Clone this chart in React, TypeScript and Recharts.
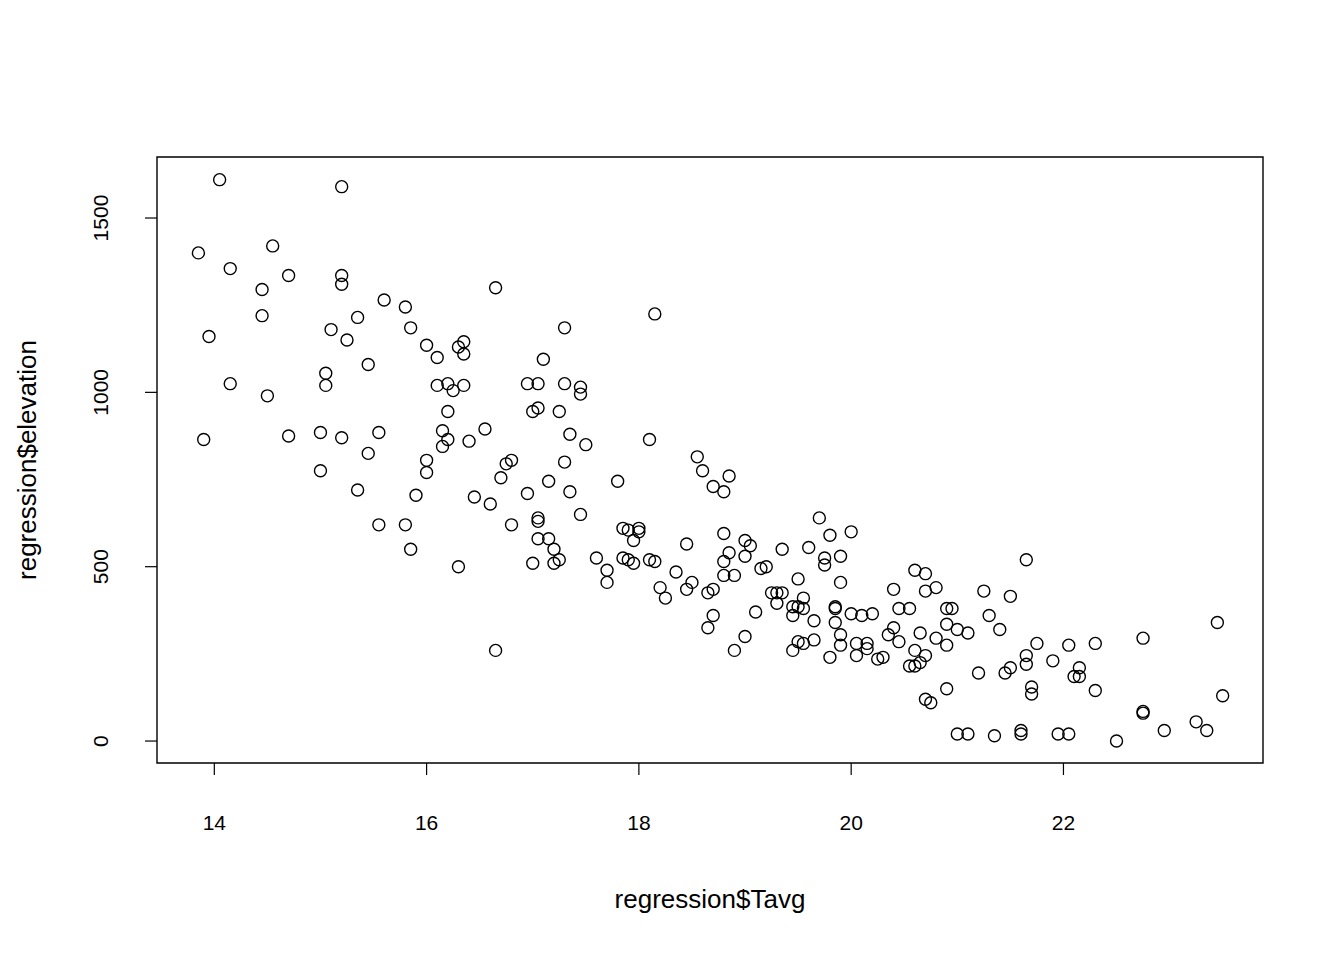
import React from "react";
import { ScatterChart, Scatter, XAxis, YAxis, ReferenceArea } from "recharts";

// regression$Tavg values
const tavg = [
  13.85, 13.9, 13.95, 14.05, 14.15, 14.15, 14.45, 14.45, 14.5, 14.55, 14.7, 14.7, 15.0, 15.0, 15.05, 15.05, 15.1, 15.2, 15.2, 15.2,
  15.2, 15.25, 15.35, 15.35, 15.45, 15.45, 15.55, 15.55, 15.6, 15.8, 15.8, 15.85, 15.85, 15.9, 16.0, 16.0, 16.0, 16.1, 16.1, 16.15,
  16.15, 16.2, 16.2, 16.2, 16.25, 16.3, 16.3, 16.35, 16.35, 16.35, 16.4, 16.45, 16.55, 16.6, 16.65, 16.65, 16.7, 16.75, 16.8, 16.8,
  16.95, 16.95, 17.0, 17.0, 17.05, 17.05, 17.05, 17.05, 17.05, 17.1, 17.15, 17.15, 17.2, 17.2, 17.25, 17.25, 17.3, 17.3, 17.3, 17.35,
  17.35, 17.45, 17.45, 17.45, 17.5, 17.6, 17.7, 17.7, 17.8, 17.85, 17.85, 17.9, 17.9, 17.95, 17.95, 18.0, 18.0, 18.1, 18.1, 18.15,
  18.15, 18.2, 18.25, 18.35, 18.45, 18.45, 18.5, 18.55, 18.6, 18.65, 18.65, 18.7, 18.7, 18.7, 18.8, 18.8, 18.8, 18.8, 18.85, 18.85,
  18.9, 18.9, 19.0, 19.0, 19.0, 19.05, 19.1, 19.15, 19.2, 19.25, 19.3, 19.3, 19.35, 19.35, 19.45, 19.45, 19.45, 19.5, 19.5, 19.5,
  19.55, 19.55, 19.55, 19.6, 19.65, 19.65, 19.7, 19.75, 19.75, 19.8, 19.8, 19.85, 19.85, 19.85, 19.9, 19.9, 19.9, 19.9, 20.0, 20.0,
  20.05, 20.05, 20.1, 20.15, 20.15, 20.2, 20.25, 20.3, 20.35, 20.4, 20.4, 20.45, 20.45, 20.55, 20.55, 20.6, 20.6, 20.6, 20.65, 20.65,
  20.7, 20.7, 20.7, 20.7, 20.75, 20.8, 20.8, 20.9, 20.9, 20.9, 20.9, 20.95, 21.0, 21.0, 21.1, 21.1, 21.2, 21.25, 21.3, 21.35,
  21.4, 21.45, 21.5, 21.5, 21.6, 21.6, 21.65, 21.65, 21.65, 21.7, 21.7, 21.75, 21.9, 21.95, 22.05, 22.05, 22.1, 22.15, 22.15, 22.3,
  22.3, 22.5, 22.75, 22.75, 22.75, 22.95, 23.25, 23.35, 23.45, 23.5,
];

// regression$elevation values (same order)
const elevation = [
  1400, 865, 1160, 1610, 1355, 1025, 1295, 1220, 990, 1420, 1335, 875, 885, 775, 1055, 1020, 1180, 1590, 1335, 1310,
  870, 1150, 1215, 720, 1080, 825, 885, 620, 1265, 1245, 620, 1185, 550, 705, 1135, 805, 770, 1100, 1020, 890,
  845, 1025, 945, 865, 1005, 1130, 500, 1145, 1110, 1020, 860, 700, 895, 680, 1300, 260, 755, 795, 805, 620,
  1025, 710, 945, 510, 1025, 955, 640, 630, 580, 1095, 745, 580, 550, 510, 945, 520, 1185, 1025, 800, 880,
  715, 1015, 995, 650, 850, 525, 490, 455, 745, 610, 525, 605, 520, 575, 510, 610, 600, 865, 520, 1225,
  515, 440, 410, 485, 565, 435, 455, 815, 775, 425, 325, 730, 435, 360, 715, 595, 515, 475, 760, 540,
  475, 260, 575, 530, 300, 560, 370, 495, 500, 425, 425, 395, 550, 425, 385, 360, 260, 465, 385, 285,
  410, 380, 280, 555, 345, 290, 640, 525, 505, 590, 240, 385, 380, 340, 530, 455, 305, 275, 600, 365,
  280, 245, 360, 280, 265, 365, 235, 240, 305, 435, 325, 380, 285, 380, 215, 490, 260, 215, 310, 225,
  480, 430, 245, 120, 110, 440, 295, 380, 335, 275, 150, 380, 320, 20, 310, 20, 195, 430, 360, 15,
  320, 195, 415, 210, 30, 20, 520, 245, 220, 155, 135, 280, 230, 20, 275, 20, 185, 210, 185, 280,
  145, 0, 295, 85, 80, 30, 55, 30, 340, 130,
];

const xTicks = [14, 16, 18, 20, 22];
const yTicks = [0, 500, 1000, 1500];

const points = tavg.map((t, i) => ({ tavg: t, elevation: elevation[i] }));

const font = "'Liberation Sans', Arial, sans-serif";

const XTick = (props: any) => {
  const { x, y, payload } = props;
  return (
    <text x={x} y={y + 55} textAnchor="middle" fontFamily={font} fontSize={21} fill="#000">
      {payload.value}
    </text>
  );
};

const YTick = (props: any) => {
  const { y, payload } = props;
  return (
    <text transform={`translate(108,${y}) rotate(-90)`} textAnchor="middle" fontFamily={font} fontSize={21} fill="#000">
      {payload.value}
    </text>
  );
};

const Ring = (props: any) => {
  const { cx, cy } = props;
  return <circle cx={cx} cy={cy} r={6} fill="none" stroke="#000" strokeWidth={1.4} />;
};

export default function App() {
  return (
    <div style={{ position: "absolute", left: 0, top: 0, width: 1344, height: 960, background: "#fff" }}>
      <ScatterChart width={1344} height={960} margin={{ top: 157, right: 81, bottom: 0, left: 0 }}>
        <XAxis
          type="number"
          dataKey="tavg"
          domain={[13.46, 23.88]}
          ticks={xTicks}
          allowDataOverflow
          axisLine={false}
          tickLine={{ stroke: "#000", strokeWidth: 1.2 }}
          tickSize={12}
          tickMargin={0}
          tick={<XTick />}
          height={197}
          label={{
            content: () => (
              <text x={710} y={908} textAnchor="middle" fontFamily={font} fontSize={26} fill="#000">
                regression$Tavg
              </text>
            ),
          }}
        />
        <YAxis
          type="number"
          dataKey="elevation"
          domain={[-63, 1675]}
          ticks={yTicks}
          allowDataOverflow
          axisLine={false}
          tickLine={{ stroke: "#000", strokeWidth: 1.2 }}
          tickSize={12}
          tickMargin={0}
          tick={<YTick />}
          width={157}
          label={{
            content: () => (
              <text transform="translate(36,460) rotate(-90)" textAnchor="middle" fontFamily={font} fontSize={26} fill="#000">
                regression$elevation
              </text>
            ),
          }}
        />
        <ReferenceArea x1={13.46} x2={23.88} y1={-63} y2={1675} fill="none" stroke="#000" strokeWidth={1.4} ifOverflow="visible" />
        <Scatter data={points} shape={<Ring />} isAnimationActive={false} />
      </ScatterChart>
    </div>
  );
}
